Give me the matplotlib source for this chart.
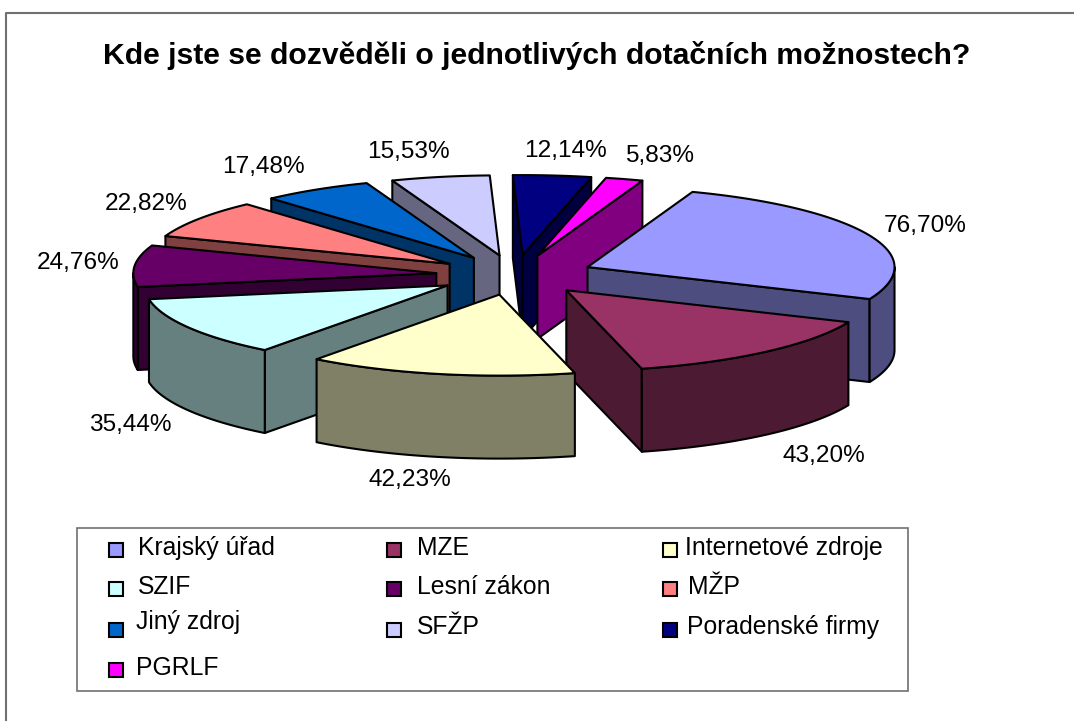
import numpy as np
import matplotlib
matplotlib.use('Agg')
import matplotlib.pyplot as plt
from matplotlib.colors import to_rgb
from matplotlib.patches import Polygon, Rectangle

plt.rcParams['font.family'] = ['Liberation Sans', 'DejaVu Sans']

title = 'Kde jste se dozvěděli o jednotlivých dotačních možnostech?'
categories = ['Krajský úřad', 'MZE', 'Internetové zdroje', 'SZIF', 'Lesní zákon',
              'MŽP', 'Jiný zdroj', 'SFŽP', 'Poradenské firmy', 'PGRLF']
values = [76.70, 43.20, 42.23, 35.44, 24.76, 22.82, 17.48, 15.53, 12.14, 5.83]
colors = ['#9999FF', '#993366', '#FFFFCC', '#CCFFFF', '#660066',
          '#FF8080', '#0066CC', '#CCCCFF', '#000080', '#FF00FF']

# pixel layout of the fake 3d pie
CX, CY = 515, 275
RX_LEFT, RX_RIGHT = 303, 307
RY_BACK, RY_FRONT = 80, 81
EX, EY = 79, 20
DEPTH = 83
START = 20

label_pos = [(925, 226), (824, 456), (410, 480), (130, 425), (78, 263),
             (146, 204), (263, 167), (408, 152), (565, 151), (660, 156)]
swatch_pos = [(109, 550), (387, 550), (663, 550), (109, 589), (387, 589),
              (663, 589), (109, 630), (387, 630), (663, 630), (109, 670)]
legend_text_pos = [(138, 548), (417, 548), (685, 548), (138, 587), (417, 587),
                   (688, 587), (136, 622), (417, 627), (687, 627), (136, 668)]


def rim(ox, oy, angles):
    rad = np.radians(angles)
    s, c = np.sin(rad), np.cos(rad)
    # the original ellipse is not quite symmetric, it has some perspective
    return np.column_stack([ox + np.where(s > 0, RX_RIGHT, RX_LEFT) * s,
                            oy - np.where(c > 0, RY_BACK, RY_FRONT) * c])


def face(ax, pts, color):
    ax.add_patch(Polygon(pts, closed=True, facecolor=color, edgecolor='black',
                         linewidth=1.5, joinstyle='round'))


def draw_slice(ax, a1, a2, color):
    mid = np.radians((a1 + a2) / 2)
    ox = CX + EX * np.sin(mid)
    oy = CY - EY * np.cos(mid)
    dark = tuple(c * 0.5 for c in to_rgb(color))
    drop = np.array([0, DEPTH])
    apex = np.array([[ox, oy]])

    # radial sides, only the ones turned towards the viewer
    for a, visible in ((a1, np.sin(np.radians(a1)) < 0), (a2, np.sin(np.radians(a2)) > 0)):
        if visible:
            p = rim(ox, oy, [a])
            face(ax, np.vstack([apex, p, p + drop, apex + drop]), dark)

    # outer wall, front part of the ellipse
    for lo, hi in ((90, 270), (450, 630)):
        s, e = max(a1, lo), min(a2, hi)
        if s < e:
            arc = rim(ox, oy, np.linspace(s, e, 60))
            face(ax, np.vstack([arc, (arc + drop)[::-1]]), dark)

    top = rim(ox, oy, np.linspace(a1, a2, 120))
    face(ax, np.vstack([apex, top]), color)


fig = plt.figure(figsize=(10.74, 7.21), dpi=100)
ax = fig.add_axes([0, 0, 1, 1])
ax.set_xlim(0, 1074)
ax.set_ylim(721, 0)
ax.axis('off')

# chart frame, cropped on the right and bottom
ax.plot([6, 6, 1074], [721, 13, 13], color='#707070', linewidth=1.5)

ax.text(537, 55, title, fontsize=21.7, fontweight='bold', ha='center', va='center')

sweep = np.array(values) / sum(values) * 360
ends = START + np.cumsum(sweep)
starts = ends - sweep
mids = (starts + ends) / 2
for i in np.argsort(-np.cos(np.radians(mids))):
    draw_slice(ax, starts[i], ends[i], colors[i])

for v, (x, y) in zip(values, label_pos):
    ax.text(x, y, f'{v:.2f}%'.replace('.', ','), fontsize=17.6, ha='center', va='center')

ax.add_patch(Rectangle((77, 528), 831, 163, facecolor='white', edgecolor='#707070', linewidth=1.2))
for name, col, (sx, sy), (tx, ty) in zip(categories, colors, swatch_pos, legend_text_pos):
    ax.add_patch(Rectangle((sx, sy - 7), 14, 14, facecolor=col, edgecolor='black', linewidth=1.5))
    ax.text(tx, ty, name, fontsize=17.8, ha='left', va='center')

fig.savefig('out.png', dpi=100)
